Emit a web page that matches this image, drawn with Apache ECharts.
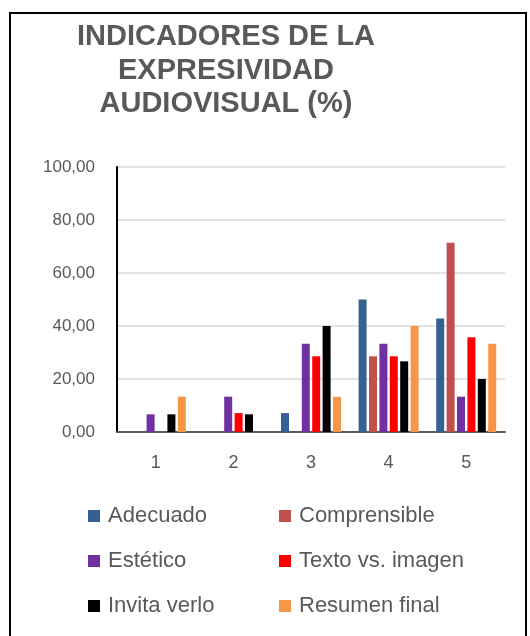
<!DOCTYPE html>
<html>
<head>
<meta charset="utf-8">
<script src="https://cdn.jsdelivr.net/npm/echarts@6/dist/echarts.min.js"></script>
<style>
  html, body { margin: 0; padding: 0; background: #fff; }
  #main { width: 530px; height: 636px; }
</style>
</head>
<body>
<div id="main"></div>
<script>
// datos
var categorias = ['1', '2', '3', '4', '5'];
var adecuado     = [0, 0, 7.14, 50.00, 42.86];
var comprensible = [0, 0, 0, 28.57, 71.43];
var estetico     = [6.67, 13.33, 33.33, 33.33, 13.33];
var textoImagen  = [0, 7.14, 28.57, 28.57, 35.71];
var invitaVerlo  = [6.67, 6.67, 40.00, 26.67, 20.00];
var resumenFinal = [13.33, 0, 13.33, 40.00, 33.33];
var tituloLineas = ['INDICADORES DE LA', 'EXPRESIVIDAD', 'AUDIOVISUAL (%)'];

var gris = '#595959';
var myChart = echarts.init(document.getElementById('main'));

function serie(nombre, datos, color) {
    return {
        name: nombre,
        type: 'bar',
        data: datos,
        barWidth: 8,
        barGap: '30%',
        itemStyle: { color: color }
    };
}

// leyenda en dos columnas
function leyenda(x, items) {
    return {
        orient: 'vertical',
        left: x, top: 505, padding: 0,
        icon: 'rect', itemWidth: 12, itemHeight: 12, itemGap: 23,
        textStyle: { color: gris, fontSize: 22, lineHeight: 22, fontFamily: '"Liberation Sans", Arial', padding: [0, 0, 0, 3] },
        data: items
    };
}

// titulo centrado, una linea por elemento
function lineaTitulo(txt, y) {
    return {
        type: 'text',
        style: {
            text: txt, x: 226, y: y, align: 'center', verticalAlign: 'middle',
            fill: gris, font: 'bold 29px "Liberation Sans", Arial'
        }
    };
}

var option = {
    animation: false,
    backgroundColor: '#fff',
    graphic: [
        {
            type: 'rect',
            shape: { x: 10, y: 13, width: 516, height: 640 },
            style: { fill: 'none', stroke: '#000', lineWidth: 2 },
            silent: true
        },
        lineaTitulo(tituloLineas[0], 37),
        lineaTitulo(tituloLineas[1], 70.5),
        lineaTitulo(tituloLineas[2], 104)
    ],
    legend: [
        leyenda(88, ['Adecuado', 'Estético', 'Invita verlo']),
        leyenda(279, ['Comprensible', 'Texto vs. imagen', 'Resumen final'])
    ],
    grid: { left: 117, right: 25, top: 167, bottom: 204 },
    xAxis: {
        type: 'category',
        data: categorias,
        axisTick: { show: false },
        axisLine: { lineStyle: { color: gris, width: 2 } },
        axisLabel: { color: gris, fontSize: 18, margin: 22, fontFamily: '"Liberation Sans", Arial' }
    },
    yAxis: {
        type: 'value',
        min: 0, max: 100, interval: 20,
        axisLine: { show: true, lineStyle: { color: '#000', width: 2 } },
        axisTick: { show: false },
        splitLine: { lineStyle: { color: '#d9d9d9', width: 1.5 } },
        axisLabel: {
            color: gris, fontSize: 17, margin: 22, fontFamily: '"Liberation Sans", Arial',
            formatter: function (v) { return v.toFixed(2).replace('.', ','); }
        }
    },
    series: [
        serie('Adecuado', adecuado, '#376092'),
        serie('Comprensible', comprensible, '#c0504d'),
        serie('Estético', estetico, '#7030a0'),
        serie('Texto vs. imagen', textoImagen, '#ff0000'),
        serie('Invita verlo', invitaVerlo, '#000000'),
        serie('Resumen final', resumenFinal, '#f79646')
    ]
};
myChart.setOption(option);
</script>
</body>
</html>
